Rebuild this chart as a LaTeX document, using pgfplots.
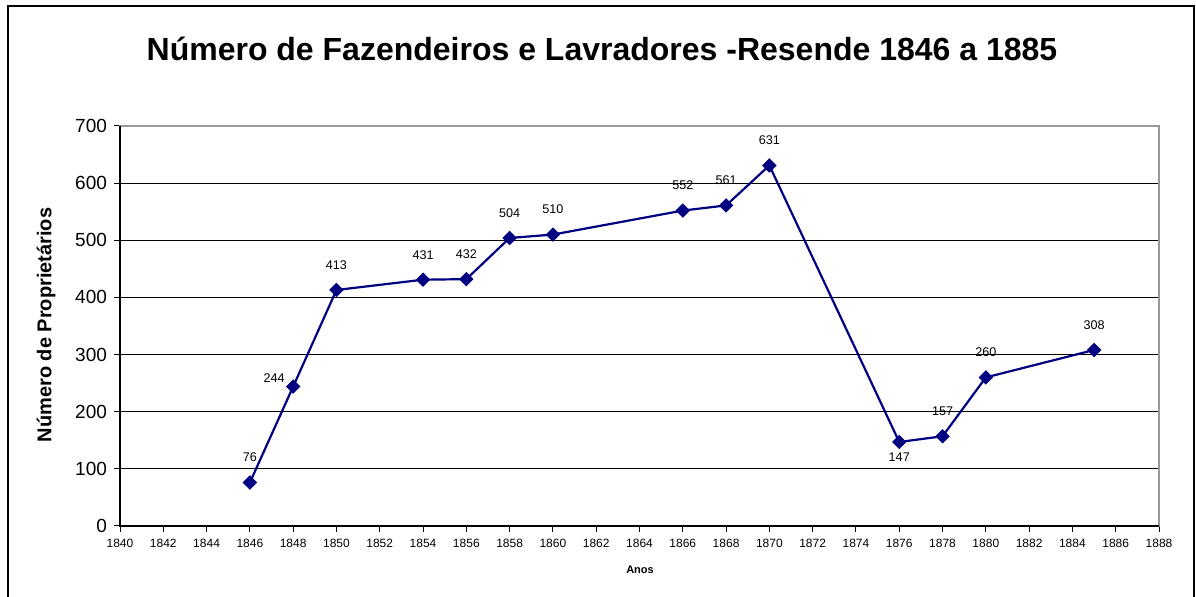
\documentclass[border=0pt]{standalone}
\usepackage{pgfplots}
\pgfplotsset{compat=1.18}
\usepackage{fontspec}
\setmainfont{Liberation Sans}
\definecolor{navy}{RGB}{0,0,128}
\begin{document}
\begin{tikzpicture}
\path[use as bounding box] (0pt,0pt) rectangle (598pt,298.5pt);
\draw[line width=0.6pt] (4pt,-1pt) -- (4pt,295.5pt) -- (597pt,295.5pt) -- (597pt,-1pt);
\node[font=\fontsize{16}{18}\selectfont\bfseries] at (301pt,274pt) {Número de Fazendeiros e Lavradores -Resende 1846 a 1885};
\node[font=\fontsize{10}{12}\selectfont\bfseries, rotate=90] at (23pt,136pt) {Número de Proprietários};
\node[font=\fontsize{5.5}{7}\selectfont\bfseries] at (320pt,13.5pt) {Anos};
\begin{axis}[
  at={(60pt,35.5pt)}, anchor=south west,
  scale only axis, width=519.5pt, height=200pt,
  xmin=1840, xmax=1888, ymin=0, ymax=700,
  xtick={1840,1842,...,1888}, ytick={0,100,...,700},
  /pgf/number format/assume math mode=true,
  x tick label style={/pgf/number format/1000 sep={}, font=\fontsize{6}{7}\selectfont},
  y tick label style={font=\fontsize{9.5}{11}\selectfont},
  tick align=outside, major tick length=3pt,
  xtick pos=bottom, ytick pos=left,
  tick style={black, line width=0.5pt},
  axis line style={gray!80, line width=0.8pt},
  ymajorgrids, grid style={black, line width=0.4pt},
  clip=false,
]
\addplot[navy, line width=1.1pt, mark=square*, mark size=2.3pt, mark options={fill=navy, rotate=45, line width=0.5pt},
  nodes near coords, point meta=explicit symbolic,
  visualization depends on={\thisrow{dx}\as\dx},
  visualization depends on={\thisrow{dy}\as\dy},
  every node near coord/.append style={font=\fontsize{6.3}{7}\selectfont, text=black, anchor=center, rotate=0, xshift=\dx pt, yshift=\dy pt}]
  table[x=x, y=y, meta=y] {
x y dx dy
1846 76 0 12.5
1848 244 -9.5 4
1850 413 0 12.5
1854 431 0 12.5
1856 432 0 12.5
1858 504 0 12.5
1860 510 0 12.5
1866 552 0 12.5
1868 561 0 12.5
1870 631 0 12.5
1876 147 0 -7.5
1878 157 0 12.5
1880 260 0 12.5
1885 308 0 12.5
};
\draw[black, line width=0.8pt] (rel axis cs:0,1) -- (rel axis cs:0,0) -- (rel axis cs:1,0);
\end{axis}
\end{tikzpicture}
\end{document}
